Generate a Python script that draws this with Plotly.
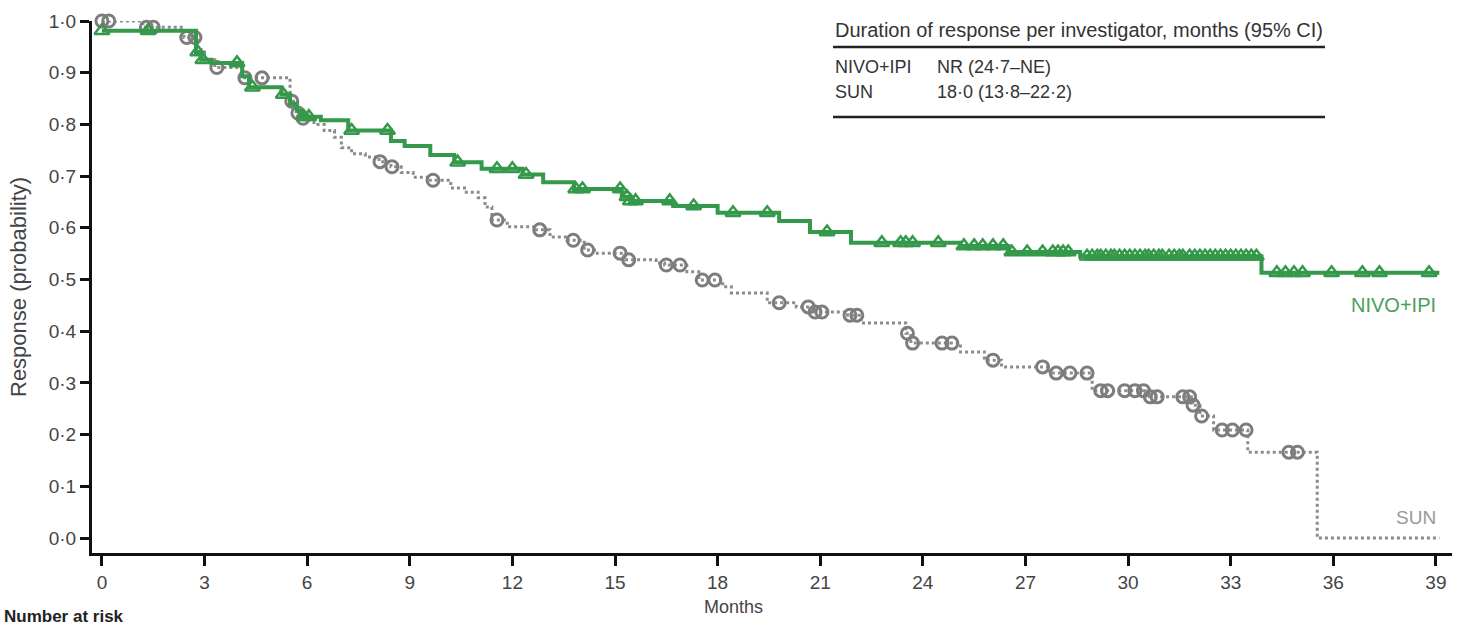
import numpy as np
import plotly.graph_objects as go

# Kaplan-Meier step data: time of each step (months) and response probability after it
nivo_times = [0.0, 2.75, 2.9, 3.2, 4.1, 4.3, 5.25, 5.5, 5.7, 5.85, 6.4, 7.2, 8.45, 8.85,
              9.6, 10.3, 11.1, 12.3, 12.9, 13.8, 15.2, 15.45, 16.7, 18.0, 19.8, 20.7,
              21.9, 25.1, 26.5, 28.6, 33.9, 39.1]
nivo_surv = [0.981, 0.940, 0.925, 0.919, 0.893, 0.872, 0.858, 0.840, 0.826, 0.815, 0.808,
             0.788, 0.768, 0.758, 0.741, 0.727, 0.714, 0.703, 0.688, 0.675, 0.660, 0.652,
             0.642, 0.629, 0.613, 0.592, 0.571, 0.565, 0.553, 0.545, 0.513, 0.513]
nivo_censored = [0.0, 1.35, 2.8, 2.95, 3.95, 4.4, 5.3, 5.9, 6.05, 7.3, 8.35, 10.4, 11.55,
                 12.0, 12.4, 13.85, 14.05, 15.15, 15.35, 15.45, 15.6, 16.6, 17.3, 18.45,
                 19.45, 21.2, 22.8, 23.35, 23.5, 23.7, 24.45, 25.2, 25.5, 25.75, 26.05,
                 26.35, 26.6, 27.05, 27.5, 27.8, 27.95, 28.1, 28.25, 28.8, 28.95, 29.1,
                 29.2, 29.35, 29.5, 29.6, 29.75, 29.9, 30.05, 30.2, 30.35, 30.5, 30.6,
                 30.75, 30.9, 31.0, 31.2, 31.35, 31.5, 31.6, 31.8, 31.95, 32.1, 32.25,
                 32.4, 32.55, 32.7, 32.85, 33.0, 33.15, 33.3, 33.45, 33.6, 33.75, 34.35,
                 34.6, 34.85, 35.1, 35.95, 36.85, 37.35, 38.8]

sun_times = [0.0, 1.2, 2.4, 2.8, 3.0, 3.3, 4.1, 5.5, 5.6, 5.7, 5.85, 6.2, 6.5, 6.8, 7.0,
             7.3, 7.7, 8.1, 8.45, 8.75, 9.1, 9.6, 10.2, 10.6, 11.0, 11.2, 11.4, 11.85,
             12.7, 13.1, 13.6, 14.1, 14.4, 15.3, 16.2, 16.45, 17.1, 17.45, 18.15, 18.4,
             19.45, 20.3, 20.8, 21.8, 22.2, 23.5, 23.65, 25.1, 25.8, 26.3, 27.7, 28.95,
             30.5, 31.85, 32.1, 32.5, 33.5, 35.53, 39.1]
sun_surv = [1.000, 0.988, 0.968, 0.945, 0.925, 0.910, 0.890, 0.845, 0.834, 0.822, 0.812,
            0.800, 0.788, 0.775, 0.755, 0.743, 0.737, 0.728, 0.718, 0.707, 0.698, 0.692,
            0.677, 0.669, 0.658, 0.640, 0.615, 0.602, 0.596, 0.582, 0.576, 0.557, 0.551,
            0.538, 0.532, 0.528, 0.515, 0.499, 0.486, 0.474, 0.455, 0.447, 0.437, 0.431,
            0.416, 0.396, 0.377, 0.360, 0.344, 0.331, 0.319, 0.285, 0.273, 0.257, 0.236,
            0.209, 0.166, 0.000, 0.000]
sun_censored = [0.0, 0.2, 1.3, 1.5, 2.48, 2.72, 3.36, 4.18, 4.68, 5.55, 5.73, 5.88, 8.13,
                8.48, 9.68, 11.55, 12.8, 13.78, 14.2, 15.15, 15.4, 16.5, 16.9, 17.55, 17.92,
                19.8, 20.65, 20.85, 21.05, 21.87, 22.07, 23.55, 23.7, 24.56, 24.85, 26.05,
                27.5, 27.9, 28.3, 28.8, 29.2, 29.4, 29.9, 30.2, 30.45, 30.65, 30.85, 31.6,
                31.8, 31.9, 32.15, 32.75, 33.05, 33.45, 34.7, 34.95]

y_ticks = [0.0, 0.1, 0.2, 0.3, 0.4, 0.5, 0.6, 0.7, 0.8, 0.9, 1.0]
y_tick_labels = ["0·0", "0·1", "0·2", "0·3", "0·4", "0·5", "0·6", "0·7", "0·8", "0·9", "1·0"]
x_ticks = [0, 3, 6, 9, 12, 15, 18, 21, 24, 27, 30, 33, 36, 39]

table_header = "Duration of response per investigator, months (95% CI)"
table_groups = ["NIVO+IPI", "SUN"]
table_values = ["NR (24·7–NE)", "18·0 (13·8–22·2)"]

GREEN = "#34994a"
GREY = "#7d7d7d"
FONT = "Liberation Sans, Arial, sans-serif"

W, H = 1462, 625
L, R, T, B = 92, 10, 21, 72


def level_at(times, surv, t):
    """Value of a right-continuous step function at time t."""
    idx = np.searchsorted(np.asarray(times), np.asarray(t), side="right") - 1
    return np.asarray(surv)[np.clip(idx, 0, len(surv) - 1)]


def px_x(px):
    return (px - L) / (W - L - R)


def px_y(py):
    return (H - B - py) / (H - T - B)


fig = go.Figure()

# SUN: dotted grey curve with open circles for censored patients
fig.add_trace(go.Scatter(x=sun_times, y=sun_surv, mode="lines", line_shape="hv",
                         line=dict(color="#8c8c8c", width=3, dash="dot"),
                         hoverinfo="skip", showlegend=False))
fig.add_trace(go.Scatter(x=sun_censored, y=level_at(sun_times, sun_surv, sun_censored),
                         mode="markers", cliponaxis=False,
                         marker=dict(symbol="circle-open", size=12, color=GREY,
                                     line=dict(width=3, color=GREY)),
                         showlegend=False))

# NIVO+IPI: solid green curve with open triangles for censored patients
fig.add_trace(go.Scatter(x=nivo_times, y=nivo_surv, mode="lines", line_shape="hv",
                         line=dict(color=GREEN, width=4),
                         hoverinfo="skip", showlegend=False))
fig.add_trace(go.Scatter(x=nivo_censored, y=level_at(nivo_times, nivo_surv, nivo_censored),
                         mode="markers", cliponaxis=False,
                         marker=dict(symbol="triangle-up-open", size=13, color=GREEN,
                                     line=dict(width=2.5, color=GREEN)),
                         showlegend=False))

# curve labels
fig.add_annotation(x=39.05, y=0.451, xref="x", yref="y", text="NIVO+IPI",
                   showarrow=False, xanchor="right", yanchor="middle",
                   font=dict(family=FONT, size=20, color="#4c9f5a"))
fig.add_annotation(x=39.05, y=0.039, xref="x", yref="y", text="SUN",
                   showarrow=False, xanchor="right", yanchor="middle",
                   font=dict(family=FONT, size=19, color="#999999"))

# duration-of-response table
fig.add_annotation(x=px_x(833), y=px_y(30), xref="paper", yref="paper",
                   text=table_header, showarrow=False, xanchor="left", yanchor="middle",
                   font=dict(family=FONT, size=20, color="#333333"))
for i, (grp, val) in enumerate(zip(table_groups, table_values)):
    row_y = px_y(67 + 25 * i)
    fig.add_annotation(x=px_x(833), y=row_y, xref="paper", yref="paper", text=grp,
                       showarrow=False, xanchor="left", yanchor="middle",
                       font=dict(family=FONT, size=18, color="#333333"))
    fig.add_annotation(x=px_x(935), y=row_y, xref="paper", yref="paper", text=val,
                       showarrow=False, xanchor="left", yanchor="middle",
                       font=dict(family=FONT, size=18, color="#333333"))
for ly in (47, 117):
    fig.add_shape(type="line", xref="paper", yref="paper",
                  x0=px_x(833), x1=px_x(1325), y0=px_y(ly), y1=px_y(ly),
                  line=dict(color="#222222", width=2.5))

# axis titles
fig.add_annotation(x=px_x(733), y=px_y(607), xref="paper", yref="paper", text="Months",
                   showarrow=False, xanchor="center", yanchor="middle",
                   font=dict(family=FONT, size=18, color="#444444"))
fig.add_annotation(x=px_x(18), y=px_y(287), xref="paper", yref="paper",
                   text="Response (probability)", textangle=-90,
                   showarrow=False, xanchor="center", yanchor="middle",
                   font=dict(family=FONT, size=22, color="#444444"))
fig.add_annotation(x=px_x(2), y=px_y(616), xref="paper", yref="paper",
                   text="<b>Number at risk</b>",
                   showarrow=False, xanchor="left", yanchor="middle",
                   font=dict(family=FONT, size=17, color="#222222"))

fig.update_xaxes(range=[-0.29, 39.47], tickmode="array", tickvals=x_ticks,
                 ticks="outside", ticklen=10, tickwidth=3, tickcolor="#111111",
                 showline=True, linewidth=3, linecolor="#111111",
                 showgrid=False, zeroline=False,
                 tickfont=dict(family=FONT, size=19, color="#444444"))
fig.update_yaxes(range=[-0.029, 1.0], tickmode="array", tickvals=y_ticks,
                 ticktext=y_tick_labels,
                 ticks="outside", ticklen=9, tickwidth=3, tickcolor="#111111",
                 showline=True, linewidth=3, linecolor="#111111",
                 showgrid=False, zeroline=False,
                 tickfont=dict(family=FONT, size=19, color="#444444"))

fig.update_layout(width=W, height=H, margin=dict(l=L, r=R, t=T, b=B),
                  plot_bgcolor="white", paper_bgcolor="white", showlegend=False)

fig.write_html("out.html")
